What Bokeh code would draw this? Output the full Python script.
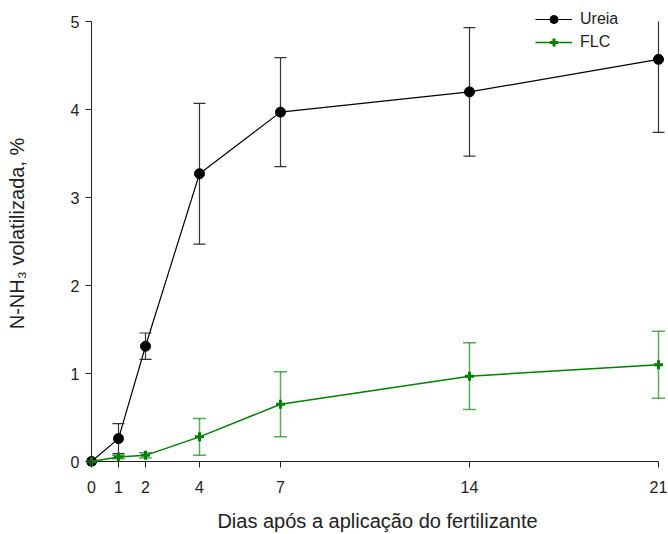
from bokeh.plotting import figure
from bokeh.models import Range1d, FixedTicker, Legend, LegendItem
from bokeh.embed import file_html
from bokeh.resources import INLINE

# ---- data ----
dias = [0, 1, 2, 4, 7, 14, 21]
ureia = [0.0, 0.26, 1.31, 3.27, 3.97, 4.20, 4.57]
ureia_err = [0.0, 0.17, 0.15, 0.80, 0.62, 0.73, 0.83]
flc = [0.0, 0.05, 0.07, 0.28, 0.65, 0.97, 1.10]
flc_err = [0.0, 0.02, 0.03, 0.21, 0.37, 0.38, 0.38]
y_ticks = [0, 1, 2, 3, 4, 5]
x_label = "Dias após a aplicação do fertilizante"
y_label = "N-NH₃ volatilizada, %"
series_names = ["Ureia", "FLC"]

FONT = "Liberation Sans"
GREEN = "#008000"
X_MAX = dias[-1]
Y_MAX = y_ticks[-1]

p = figure(width=668, height=534, output_backend="svg", toolbar_location=None,
           x_range=Range1d(-5 / 27, X_MAX + 10 / 27),
           y_range=Range1d(-5 / 88, Y_MAX + 21 / 88),
           min_border_left=86, min_border_right=0, min_border_top=0, min_border_bottom=68)
p.outline_line_color = None
p.grid.visible = False
p.background_fill_color = "white"
p.border_fill_color = "white"

for ax, ticks in ((p.xaxis, dias), (p.yaxis, y_ticks)):
    ax.ticker = FixedTicker(ticks=ticks)
    ax.axis_line_color = None
    ax.major_tick_in = 5
    ax.major_tick_out = 1
    ax.major_tick_line_color = "#222222"
    ax.minor_tick_line_color = None
    ax.major_label_text_font = FONT
    ax.major_label_text_font_size = "16px"
    ax.major_label_text_color = "#222222"
    ax.axis_label_text_font = FONT
    ax.axis_label_text_font_size = "20px"
    ax.axis_label_text_font_style = "normal"
    ax.axis_label_text_color = "#222222"

p.xaxis.axis_label = x_label
p.yaxis.axis_label = y_label
p.xaxis.major_label_standoff = 13
p.yaxis.major_label_standoff = 6
p.xaxis.axis_label_standoff = 14
p.yaxis.axis_label_standoff = 40

# axis lines from data bounds
p.segment(x0=[0, 0], y0=[0, 0], x1=[X_MAX, 0], y1=[0, Y_MAX], line_color="#222222", line_width=1)


def bars(vals, errs):
    lo = [v - e for v, e in zip(vals, errs)]
    hi = [min(v + e, Y_MAX) for v, e in zip(vals, errs)]
    cap_x = [x for x, v, e in zip(dias, vals, errs) if v + e <= Y_MAX]
    cap_hi = [v + e for v, e in zip(vals, errs) if v + e <= Y_MAX]
    return lo, hi, cap_x, cap_hi


# Ureia
u_lo, u_hi, u_cx, u_ch = bars(ureia, ureia_err)
l1 = p.line(dias, ureia, line_color="black", line_width=1.2)
p.segment(x0=dias, y0=u_lo, x1=dias, y1=u_hi, line_color="#333333", line_width=1.2)
p.scatter(dias, u_lo, marker="dash", size=12, line_color="#333333", line_width=1.2)
p.scatter(u_cx, u_ch, marker="dash", size=12, line_color="#333333", line_width=1.2)
m1 = p.scatter(dias, ureia, marker="circle", size=10, fill_color="black", line_color="black")

# FLC
f_lo, f_hi, f_cx, f_ch = bars(flc, flc_err)
l2 = p.line(dias, flc, line_color=GREEN, line_width=1.5)
p.segment(x0=dias, y0=f_lo, x1=dias, y1=f_hi, line_color=GREEN, line_alpha=0.65, line_width=1.5)
p.scatter(dias, f_lo, marker="dash", size=13, line_color=GREEN, line_alpha=0.65, line_width=1.5)
p.scatter(f_cx, f_ch, marker="dash", size=13, line_color=GREEN, line_alpha=0.65, line_width=1.5)
m2 = p.scatter(dias, flc, marker="cross", size=9, line_color=GREEN, line_width=3)

legend = Legend(items=[LegendItem(label=series_names[0], renderers=[l1, m1]),
                       LegendItem(label=series_names[1], renderers=[l2, m2])],
                location=(449, 414), orientation="vertical",
                border_line_color=None, background_fill_alpha=0,
                padding=0, margin=0, spacing=3,
                glyph_width=37, glyph_height=20, label_height=20,
                label_standoff=8, label_text_font=FONT, label_text_font_size="16px",
                label_text_color="#222222")
p.add_layout(legend, "center")

open("out.html", "w").write(file_html(p, INLINE))
